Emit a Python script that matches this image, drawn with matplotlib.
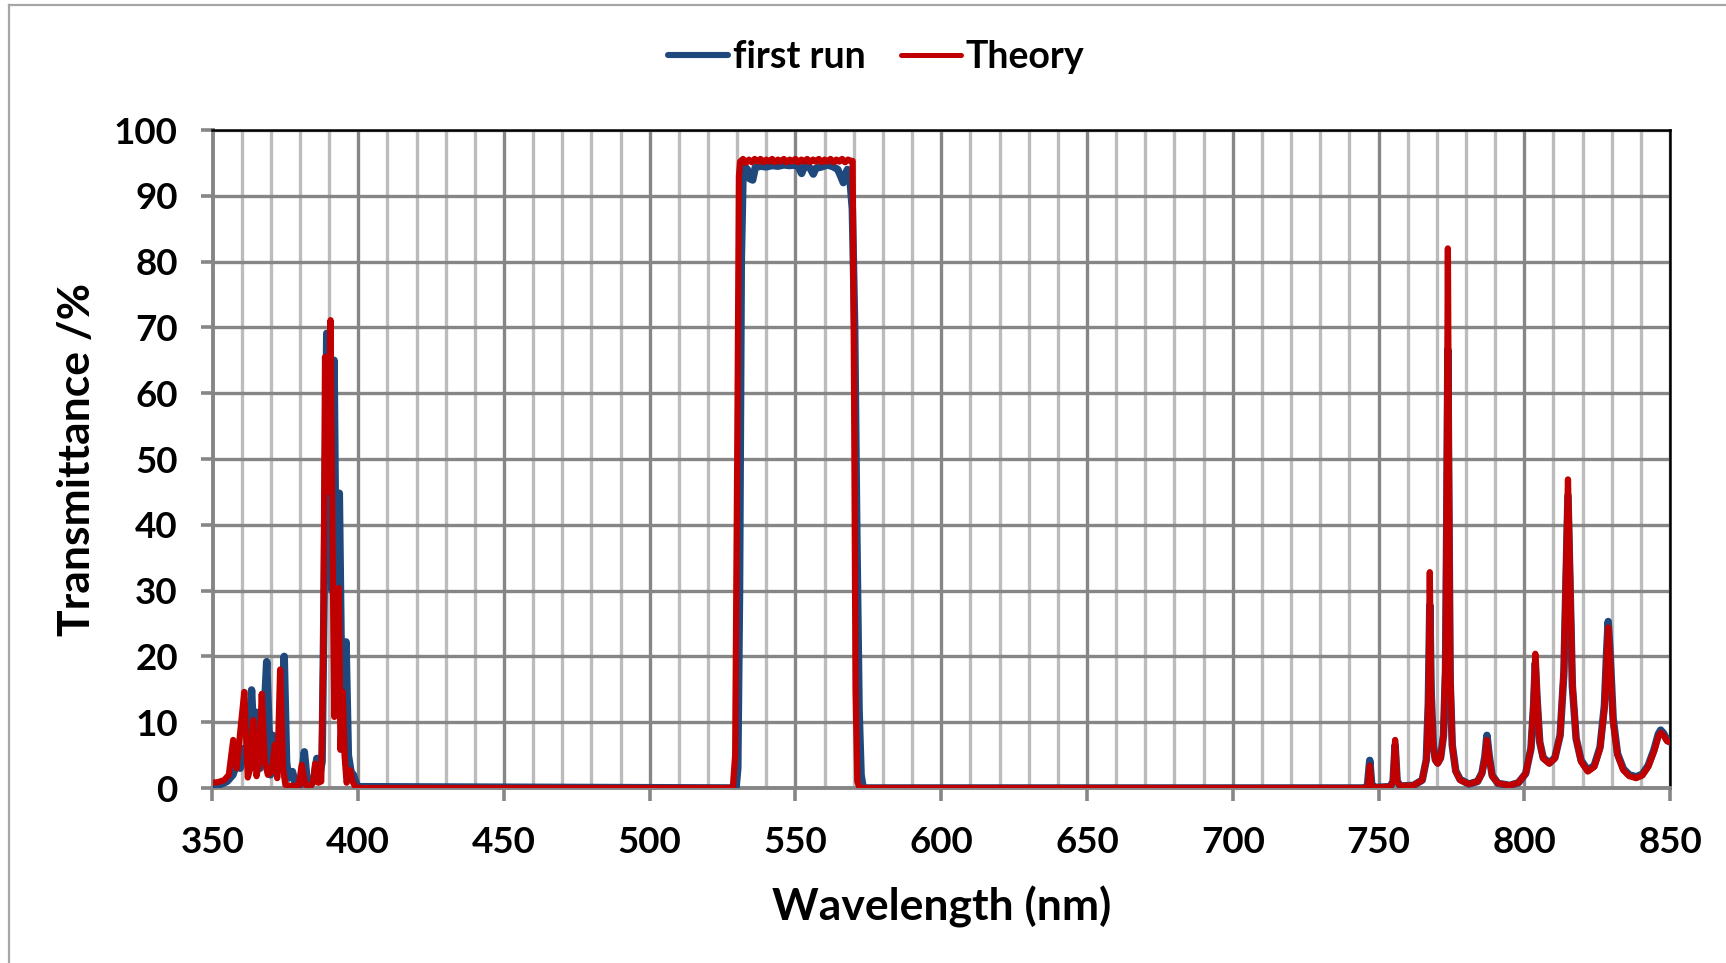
import matplotlib
matplotlib.use("Agg")
import matplotlib.pyplot as plt
from matplotlib.lines import Line2D

# ---------------- data ----------------
wl_run = [350, 353, 355, 357, 358.5, 359.5, 360.8, 362.0, 363.4, 364.3, 365.1, 366.3, 367.6, 368.6,
          369.9, 370.7, 371.6, 373.0, 374.6, 375.4, 376.1, 377.4, 378.5, 380.2, 381.5, 382.6, 383.8,
          384.8, 385.8, 386.8, 387.6, 388.3, 389.2, 390.2, 391.0, 391.7, 392.5, 393.5, 394.4, 395.2,
          395.8, 396.6, 397.5, 398.3, 399.5, 400,
          528.5, 529.6, 530.2, 530.8, 531.4, 532.0, 532.6, 533.5, 534.3, 535.3, 536.2, 538, 540, 542,
          544, 546, 548, 550, 551, 552.1, 553, 554, 555, 556.1, 557, 559, 561, 563, 564.5, 565.5,
          566.4, 567.1, 567.8, 568.6, 569.5, 570.3, 571.0, 571.8, 572.5, 573.2,
          745, 746.2, 747.0, 747.7, 749, 754, 755.0, 755.7, 756.4, 757.5, 762, 765, 766.4, 767.1,
          767.6, 768.1, 768.8, 769.5, 770.3, 771.3, 772.3, 773.0, 773.5, 773.8, 774.1, 774.6, 775.3,
          776.5, 778, 781, 784, 785.5, 786.5, 787.2, 788, 789, 791, 795, 798, 800.5, 802.3, 803.2,
          803.8, 804.4, 805.3, 806.5, 808.6, 810.5, 812.3, 813.6, 814.4, 815.0, 815.6, 816.5, 817.8,
          819.5, 821.8, 824, 826, 827.5, 828.3, 828.8, 829.4, 830.5, 832, 834, 836, 838.4, 840.5,
          842.5, 844.5, 846.0, 846.8, 847.8, 849, 850]
t_run = [0.3, 0.6, 1.0, 2.0, 4.0, 3.0, 6.0, 4.0, 14.9, 6.0, 11.5, 3.0, 10.0, 19.2,
         2.0, 8.0, 2.5, 6.0, 20.0, 4.0, 1.5, 2.5, 0.5, 0.5, 5.5, 0.5, 0.5,
         1.5, 4.5, 2.0, 4.0, 30.0, 69.1, 40.0, 30.0, 65.0, 25.0, 44.8, 12.0, 10.0,
         22.2, 5.0, 2.5, 2.0, 0.5, 0.2,
         0.0, 0.0, 3.0, 30.0, 80.0, 93.5, 94.4, 94.0, 92.6, 92.4, 94.3, 94.5, 94.4, 94.6,
         94.5, 94.7, 94.6, 94.7, 94.4, 93.4, 94.4, 94.6, 94.2, 93.3, 94.2, 94.4, 94.7, 94.4, 94.0, 93.0,
         92.0, 93.2, 94.0, 93.0, 88.0, 70.0, 40.0, 12.0, 2.0, 0.0,
         0.0, 0.3, 4.2, 0.4, 0.1, 0.2, 1.0, 6.5, 1.0, 0.3, 0.4, 1.2, 4.3, 13.0,
         27.8, 14.0, 6.5, 4.3, 3.8, 4.6, 8.0, 18.0, 45.0, 66.6, 45.0, 16.0, 6.5,
         2.6, 1.3, 0.6, 1.0, 2.3, 4.8, 8.0, 4.8, 1.9, 0.7, 0.4, 0.8, 2.2, 6.0, 12.5,
         19.0, 13.5, 7.0, 4.6, 3.8, 4.6, 8.0, 17.5, 33.0, 44.4, 33.0, 15.5, 7.5,
         4.2, 2.7, 3.4, 6.2, 12.5, 21.0, 25.3, 21.0, 10.5, 5.2, 2.9, 2.0, 1.7, 2.1,
         3.4, 5.8, 8.2, 8.8, 8.3, 7.3, 7.0]

wl_theory = [350, 352, 354, 355.6, 357.1, 358.3, 359.4, 360.9, 362.1, 363.0, 364.0, 365.1, 366.0,
             366.9, 367.9, 369.0, 370.3, 371.4, 372.2, 373.2, 374.2, 375.0, 377, 379.6, 380.6,
             381.8, 383.5, 384.5, 385.2, 386.3, 387.3, 388.0, 388.6, 389.4, 390.5, 391.1, 391.8,
             392.6, 393.3, 393.9, 394.7, 395.3, 396.0, 396.6, 397.2, 398.0, 399.0, 400,
             528.5, 529.3, 530.0, 530.6, 531.0, 532, 533, 534, 535, 536, 537, 538, 539, 540, 541,
             542, 543, 544, 545, 546, 547, 548, 549, 550, 551, 552, 553, 554, 555, 556, 557, 558,
             559, 560, 561, 562, 563, 564, 565, 566, 567, 568, 569.0, 569.6, 570.1, 570.6, 571.2, 572,
             745, 746.3, 747.0, 747.6, 749, 754, 755.0, 755.7, 756.4, 757.5, 762, 765, 766.5, 767.2,
             767.6, 768.0, 768.7, 769.5, 770.3, 771.3, 772.3, 773.0, 773.5, 773.8, 774.1, 774.6, 775.3,
             776.5, 778, 781, 784, 785.5, 786.5, 787.2, 788, 789, 791, 795, 798, 800.5, 802.3, 803.2,
             803.8, 804.4, 805.3, 806.5, 808.6, 810.5, 812.3, 813.6, 814.4, 815.0, 815.6, 816.5, 817.8,
             819.5, 821.8, 824, 826, 827.5, 828.3, 828.8, 829.4, 830.5, 832, 834, 836, 838.4, 840.5,
             842.5, 844.5, 846.0, 846.8, 847.8, 849, 850]
t_theory = [0.8, 0.9, 1.2, 2.0, 7.3, 3.0, 8.0, 14.6, 1.6, 3.0, 10.3, 1.8, 4.0,
            14.3, 4.0, 2.0, 2.5, 6.6, 1.5, 18.0, 3.0, 0.5, 0.3, 0.4, 3.5,
            0.5, 0.3, 0.8, 3.7, 0.8, 1.0, 20.0, 65.5, 45.0, 71.1, 40.0, 10.8,
            20.0, 30.4, 5.8, 14.6, 5.0, 0.8, 1.5, 2.7, 1.0, 0.2, 0.0,
            0.0, 5.0, 50.0, 93.0, 95.2, 95.6, 95.0, 95.5, 95.1, 95.6, 95.2, 95.6, 95.1, 95.5, 95.2,
            95.6, 95.1, 95.5, 95.2, 95.6, 95.1, 95.5, 95.2, 95.6, 95.1, 95.5, 95.2, 95.6, 95.1, 95.5, 95.2, 95.6,
            95.1, 95.5, 95.2, 95.6, 95.1, 95.5, 95.2, 95.6, 95.1, 95.5, 95.3, 95.3, 60.0, 15.0, 1.0, 0.0,
            0.0, 0.2, 3.4, 0.3, 0.1, 0.2, 1.0, 7.3, 1.0, 0.3, 0.4, 1.2, 4.5, 15.0,
            32.8, 15.0, 6.5, 4.2, 3.7, 4.5, 8.0, 20.0, 55.0, 82.0, 55.0, 18.0, 6.5,
            2.5, 1.2, 0.6, 1.0, 2.2, 4.5, 7.3, 4.5, 1.8, 0.7, 0.4, 0.8, 2.2, 6.0, 13.0,
            20.4, 14.0, 7.0, 4.5, 3.7, 4.5, 8.0, 18.0, 35.0, 46.9, 35.0, 16.0, 7.5,
            4.0, 2.5, 3.2, 6.0, 12.0, 20.0, 24.4, 20.0, 10.0, 5.0, 2.7, 1.8, 1.5, 1.9,
            3.2, 5.5, 7.8, 8.4, 8.0, 7.1, 7.0]

series_names = ["first run", "Theory"]
x_ticks = [350, 400, 450, 500, 550, 600, 650, 700, 750, 800, 850]
y_ticks = [0, 10, 20, 30, 40, 50, 60, 70, 80, 90, 100]
x_label = "Wavelength (nm)"
y_label = "Transmittance /%"

# ---------------- styling ----------------
W, H = 1726, 963
DPI = 100
plt.rcParams['font.family'] = ['Lato', 'DejaVu Sans']
plt.rcParams['font.weight'] = 'bold'

fig = plt.figure(figsize=(W / DPI, H / DPI), dpi=DPI)
ax = fig.add_axes([212.5 / W, 1 - 788 / H, (1670 - 212.5) / W, (788 - 130) / H])

DARK = '#868686'
LIGHT = '#bcbcbc'
BLUE = '#1F497D'
RED = '#C00000'

ax.set_xlim(350, 850)
ax.set_ylim(0, 100)
ax.set_xticks(x_ticks)
ax.set_yticks(y_ticks)
ax.set_xticks(list(range(350, 851, 10)), minor=True)

ax.grid(True, which='minor', axis='x', color=LIGHT, lw=2.4, zorder=0)
ax.grid(True, which='major', axis='x', color=DARK, lw=2.4, zorder=0)
ax.grid(True, which='major', axis='y', color=DARK, lw=2.4, zorder=0)
ax.set_axisbelow(True)

for side in ['left', 'bottom']:
    ax.spines[side].set_color(DARK)
    ax.spines[side].set_linewidth(2.8)
for side in ['top', 'right']:
    ax.spines[side].set_color('black')
    ax.spines[side].set_linewidth(1.8)

ax.tick_params(axis='both', which='major', direction='out', length=9, width=2.6,
               color=DARK, labelsize=26.5)
ax.tick_params(axis='x', which='minor', length=0)
ax.tick_params(axis='y', pad=16)
ax.tick_params(axis='x', pad=18)
for lab in ax.get_xticklabels() + ax.get_yticklabels():
    lab.set_fontweight('bold')

ax.plot(wl_run, t_run, color=BLUE, lw=5.4, solid_joinstyle='round', solid_capstyle='round',
        label=series_names[0], zorder=3)
ax.plot(wl_theory, t_theory, color=RED, lw=4.5, solid_joinstyle='round', solid_capstyle='round',
        label=series_names[1], zorder=4)

ax.set_xlabel(x_label, fontsize=32, fontweight='bold', labelpad=20)
ax.set_ylabel(y_label, fontsize=32, fontweight='bold', labelpad=12)

handles = [Line2D([0], [0], color=BLUE, lw=4.4, solid_capstyle='round'),
           Line2D([0], [0], color=RED, lw=3.6, solid_capstyle='round')]
fig.legend(handles, series_names, loc='center', bbox_to_anchor=(876 / W, 1 - 57 / H),
           ncol=2, frameon=False, handlelength=1.6, handletextpad=0.12,
           columnspacing=0.95, prop={'weight': 'bold', 'size': 27})

# outer chart border (left and top edges visible)
fig.add_artist(Line2D([9 / W, 9 / W], [0, 1 - 5 / H], color='#a6a6a6', lw=1.6, transform=fig.transFigure))
fig.add_artist(Line2D([9 / W, 1], [1 - 5 / H, 1 - 5 / H], color='#a6a6a6', lw=1.6, transform=fig.transFigure))

fig.savefig('out.png', dpi=DPI)
